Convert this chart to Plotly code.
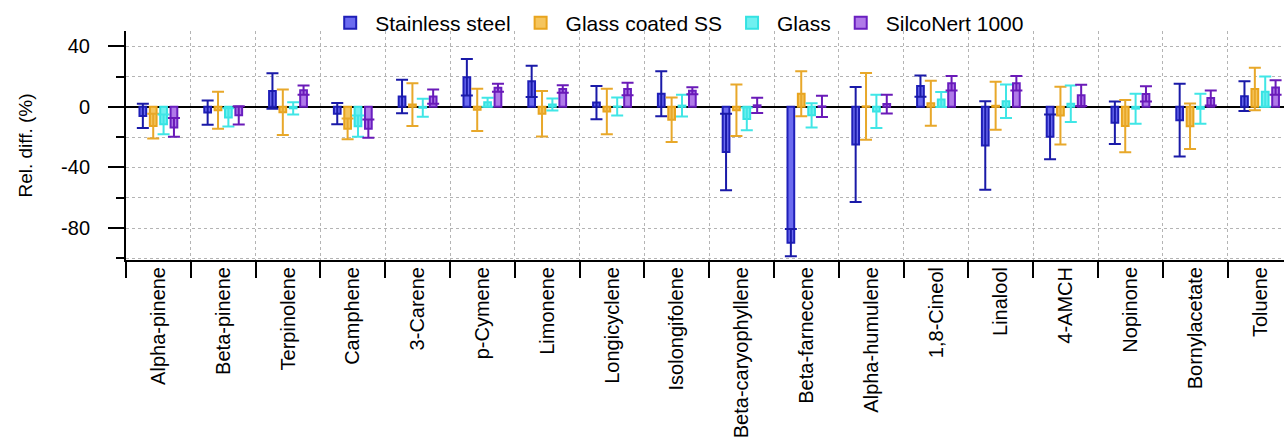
import plotly.graph_objects as go

categories = ["Alpha-pinene", "Beta-pinene", "Terpinolene", "Camphene", "3-Carene",
              "p-Cymene", "Limonene", "Longicyclene", "Isolongifolene",
              "Beta-caryophyllene", "Beta-farnecene", "Alpha-humulene", "1,8-Cineol",
              "Linalool", "4-AMCH", "Nopinone", "Bornylacetate", "Toluene"]

series_names = ["Stainless steel", "Glass coated SS", "Glass", "SilcoNert 1000"]

ss_vals = [-6, -3.8, 10.5, -4.5, 6.8, 19.5, 16.8, 2.8, 8.6, -29.8, -89.6, -24.9, 13.7, -25.5, -19.8, -10.5, -8.8, 7]
ss_err = [8, 8, 11.7, 7, 11, 12, 10.3, 11, 14.8, 25.2, 9, 37.9, 7, 29.2, 14.8, 14, 24, 9.8]

gcss_vals = [-12.7, -2.3, -3.5, -14.5, 1.5, -2, -4.5, -3, -8.5, -2.3, 8.6, 0.3, 2.4, 0.7, -5.8, -12.7, -12.8, 11.8]
gcss_err = [8.2, 12.2, 15, 6.8, 14.1, 14, 15, 15, 14.7, 17, 14.8, 22, 14.8, 15.8, 19, 17.2, 15, 14]

glass_vals = [-11.5, -7, -1, -12.8, -0.6, 3, 1.5, 0.2, 0.8, -8, -5.6, -3, 4.8, 3.7, 2, -1.2, -1.3, 10]
glass_err = [6.5, 6, 4, 7, 6, 3, 4, 6, 7.2, 7.5, 8, 11, 4.9, 11.1, 12, 9.9, 9.9, 10]

silco_vals = [-13.6, -5.6, 11, -14.4, 6.8, 12.6, 11.8, 11.8, 10.6, 1, 0.3, 1.8, 15.5, 15.5, 7.6, 8.5, 5.8, 12.8]
silco_err = [6.2, 6, 3, 6, 4.7, 2.6, 2.5, 4.1, 2.3, 5, 7, 6.2, 4.8, 4.8, 7, 5, 5, 4.8]

y_tick_vals = [40, 0, -40, -80]
y_tick_text = ["40", "0", "-40", "-80"]

fills = ["#6b6bf0", "#f5c55e", "#70f0f0", "#b07ae8"]
lines = ["#1f1fb8", "#e8a41e", "#35e2e2", "#6a1fc0"]
errc = ["#1a1aa8", "#e8a82a", "#40e6e6", "#6a1ab8"]

FONT = "Arial, Liberation Sans, sans-serif"

fig = go.Figure()
for name, vals, errs, fc, lc, ec in zip(series_names,
                                        [ss_vals, gcss_vals, glass_vals, silco_vals],
                                        [ss_err, gcss_err, glass_err, silco_err],
                                        fills, lines, errc):
    fig.add_trace(go.Bar(
        name=name, x=categories, y=vals,
        marker=dict(color=fc, line=dict(color=lc, width=2)),
        error_y=dict(type="data", array=errs, visible=True, color=ec, thickness=2, width=6),
    ))

fig.update_layout(
    width=1284, height=445,
    margin=dict(l=126, r=0, t=31, b=185),
    plot_bgcolor="white", paper_bgcolor="white",
    barmode="group", bargap=0.36, bargroupgap=0.35,
    font=dict(family=FONT, color="black", size=18),
    legend=dict(orientation="h", x=0.476, xanchor="center", y=1.035, yanchor="middle",
                font=dict(size=21, family=FONT), bgcolor="rgba(0,0,0,0)", itemwidth=40),
    showlegend=True,
)

fig.update_xaxes(
    type="category", range=[-0.5, 17.37],
    tickson="boundaries", ticks="outside", ticklen=16, tickwidth=2, tickcolor="black",
    showline=True, linecolor="black", linewidth=2,
    showgrid=True, gridcolor="#b4b4b4", griddash="dot", gridwidth=1,
    tickangle=-90, tickfont=dict(size=20, family=FONT), ticklabelstandoff=-3,
)

fig.update_yaxes(
    range=[-101, 50], tickmode="array", tickvals=y_tick_vals, ticktext=y_tick_text,
    ticks="outside", ticklen=16, tickwidth=2, tickcolor="black",
    showline=True, linecolor="black", linewidth=2,
    showgrid=True, gridcolor="#b4b4b4", griddash="dot", gridwidth=1,
    zeroline=True, zerolinecolor="black", zerolinewidth=2,
    tickfont=dict(size=20, family=FONT), ticklabelstandoff=14,
    minor=dict(dtick=20, tick0=0, ticks="outside", ticklen=8, tickwidth=2, tickcolor="black",
               showgrid=True, gridcolor="#b4b4b4", griddash="dot", gridwidth=1),
    title=dict(text="Rel. diff. (%)", font=dict(size=19, family=FONT), standoff=23),
)

fig.write_html("out.html")
